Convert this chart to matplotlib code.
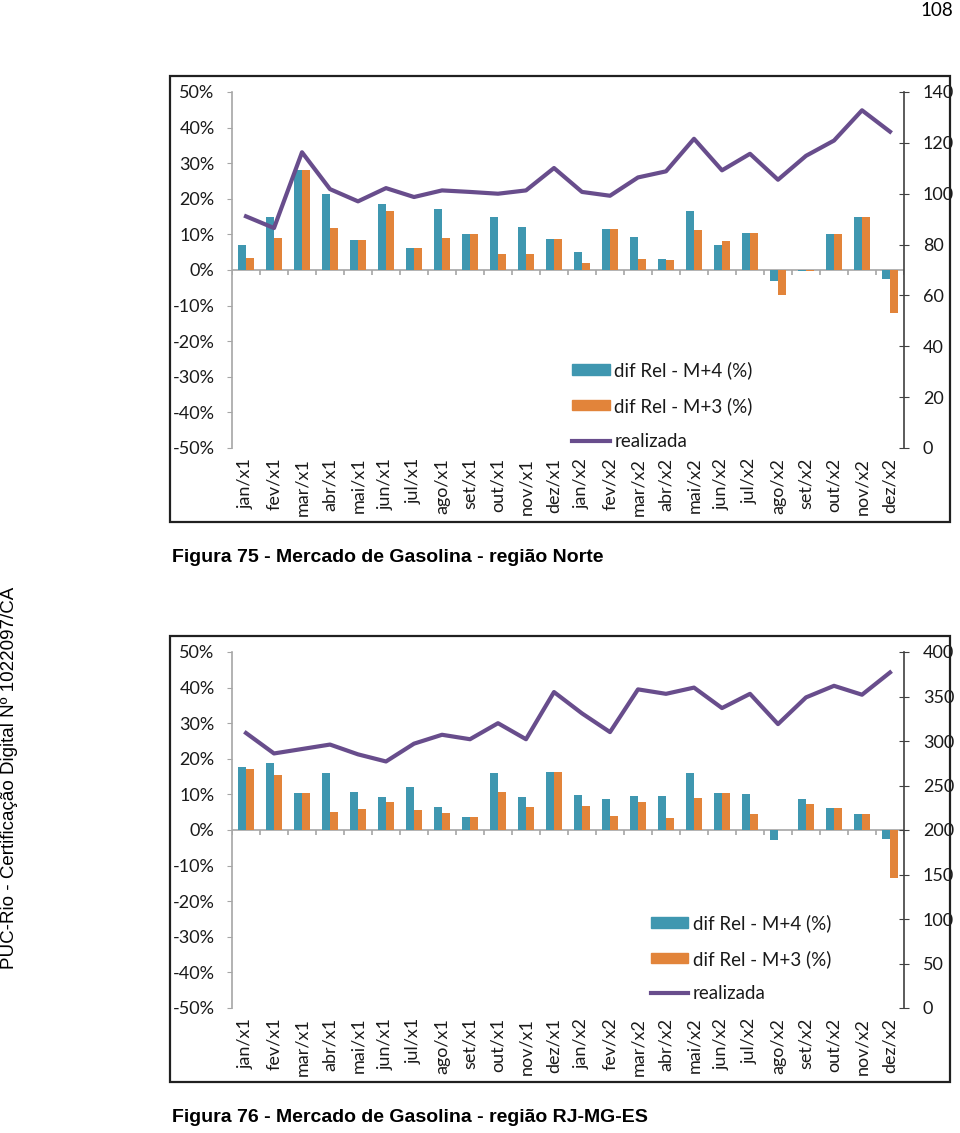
import numpy as np
import matplotlib.pyplot as plt
from matplotlib.lines import Line2D
from matplotlib.patches import Patch, Rectangle

meses = ["jan/x1", "fev/x1", "mar/x1", "abr/x1", "mai/x1", "jun/x1",
         "jul/x1", "ago/x1", "set/x1", "out/x1", "nov/x1", "dez/x1",
         "jan/x2", "fev/x2", "mar/x2", "abr/x2", "mai/x2", "jun/x2",
         "jul/x2", "ago/x2", "set/x2", "out/x2", "nov/x2", "dez/x2"]

# Figura 75 - regiao Norte
norte_m4 = [7.0, 14.8, 28.0, 21.3, 8.3, 18.4, 6.2, 17.2, 10.2, 14.8, 12.2, 8.7,
            5.1, 11.6, 9.4, 3.2, 16.6, 7.0, 10.5, -3.1, -0.4, 10.0, 14.8, -2.4]
norte_m3 = [3.3, 9.1, 28.0, 11.9, 8.3, 16.5, 6.2, 9.1, 10.2, 4.6, 4.6, 8.7,
            2.1, 11.6, 3.0, 2.7, 11.3, 8.1, 10.5, -7.0, -0.4, 10.0, 14.8, -12.1]
norte_real = [91.1, 86.5, 116.3, 101.8, 97.0, 102.2, 98.7, 101.3, 100.7, 100.0, 101.3, 110.1,
              100.7, 99.2, 106.4, 108.8, 121.6, 109.2, 115.7, 105.5, 114.9, 120.9, 132.8, 124.4]

# Figura 76 - regiao RJ-MG-ES
rj_m4 = [17.8, 18.9, 10.3, 16.0, 10.8, 9.3, 12.2, 6.4, 3.6, 16.0, 9.3, 16.3,
         9.9, 8.8, 9.6, 9.6, 16.0, 10.4, 10.1, -2.9, 8.8, 6.1, 4.6, -2.6]
rj_m3 = [17.2, 15.4, 10.3, 5.0, 5.8, 7.8, 5.5, 4.8, 3.6, 10.6, 6.6, 16.3,
         6.7, 3.9, 7.8, 3.5, 9.1, 10.4, 4.6, 0.0, 7.3, 6.1, 4.6, -13.4]
rj_real = [309, 286, 291, 296, 285, 277, 297, 307, 302, 320, 302, 355,
           331, 310, 358, 353, 360, 337, 353, 319, 349, 362, 352, 377]

esq_ticks = list(range(-50, 51, 10))
teal = "#3f97b0"
laranja = "#e2843a"
roxo = "#684d8c"
cinza = "#a6a6a6"

plt.rcParams['font.family'] = ['Lato', 'DejaVu Sans']

fig = plt.figure(figsize=(9.6, 11.33), dpi=100)
W, H = 960, 1133


def grafico(topo, real, m4, m3, dir_max, dir_passo, leg_xy):
    ax = fig.add_axes([232 / W, 1 - (topo + 356) / H, 672 / W, 356 / H])
    x = np.arange(len(meses))
    w = 0.29
    ax.bar(x - w / 2, m4, w, color=teal, zorder=2)
    ax.bar(x + w / 2, m3, w, color=laranja, zorder=2)
    ax.set_xlim(-0.5, len(meses) - 0.5)
    ax.set_ylim(-50, 50)
    ax.set_yticks(esq_ticks)
    ax.set_yticklabels([f"{v}%" for v in esq_ticks])
    ax.set_xticks(x)
    ax.set_xticklabels(meses)
    for s in ["top", "right", "bottom"]:
        ax.spines[s].set_visible(False)
    ax.spines["left"].set_color(cinza)
    ax.spines["left"].set_linewidth(1.2)
    ax.tick_params(axis="y", direction="out", length=3.6, color=cinza,
                   labelsize=13, pad=9, labelcolor="#1a1a1a")
    ax.tick_params(axis="x", length=0, labelrotation=90, labelsize=13, pad=7,
                   labelcolor="#1a1a1a")
    # eixo das categorias em 0%
    ax.axhline(0, color=cinza, lw=1.2, zorder=1)
    ax.vlines(np.arange(len(meses) + 1) - 0.5, -1.5, 0, color=cinza, lw=1.2)

    ax2 = ax.twinx()
    ax2.plot(x, real, color=roxo, lw=3, solid_joinstyle="round")
    ax2.set_ylim(0, dir_max)
    ax2.set_yticks(np.arange(0, dir_max + 1, dir_passo))
    for s in ["top", "left", "bottom"]:
        ax2.spines[s].set_visible(False)
    ax2.spines["right"].set_color("#404040")
    ax2.spines["right"].set_linewidth(1.2)
    ax2.tick_params(axis="y", direction="inout", length=7, color="#404040",
                    labelsize=13, pad=10, labelcolor="#1a1a1a")

    handles = [Patch(color=teal), Patch(color=laranja), Line2D([], [], color=roxo, lw=3)]
    ax2.legend(handles, ["dif Rel - M+4 (%)", "dif Rel - M+3 (%)", "realizada"],
               loc="upper left", bbox_to_anchor=leg_xy, frameon=False,
               fontsize=13.5, handlelength=2.0, handleheight=0.5,
               handletextpad=0.25, labelspacing=0.95, borderaxespad=0,
               labelcolor="#1a1a1a")

    fig.add_artist(Rectangle((170 / W, 1 - (topo + 430) / H), 780 / W, 446 / H,
                             transform=fig.transFigure, fill=False,
                             lw=1.6, ec="#202020"))


grafico(92, norte_real, norte_m4, norte_m3, 140, 20, (0.495, 0.265))
grafico(652, rj_real, rj_m4, rj_m3, 400, 50, (0.612, 0.285))

fig.text(172 / W, 1 - 558 / H, "Figura 75 - Mercado de Gasolina - região Norte",
         family="Liberation Sans", fontweight="bold", fontsize=14, va="center")
fig.text(172 / W, 1 - 1118 / H, "Figura 76 - Mercado de Gasolina - região RJ-MG-ES",
         family="Liberation Sans", fontweight="bold", fontsize=14, va="center")
fig.text(937 / W, 1 - 10 / H, "108", fontsize=13.5, ha="center", va="center")
fig.text(10 / W, 1 - 778 / H, "PUC-Rio - Certificação Digital Nº 1022097/CA",
         family="Liberation Sans", fontsize=13.5, rotation=90, ha="center", va="center")

fig.savefig("out.png", dpi=100)
